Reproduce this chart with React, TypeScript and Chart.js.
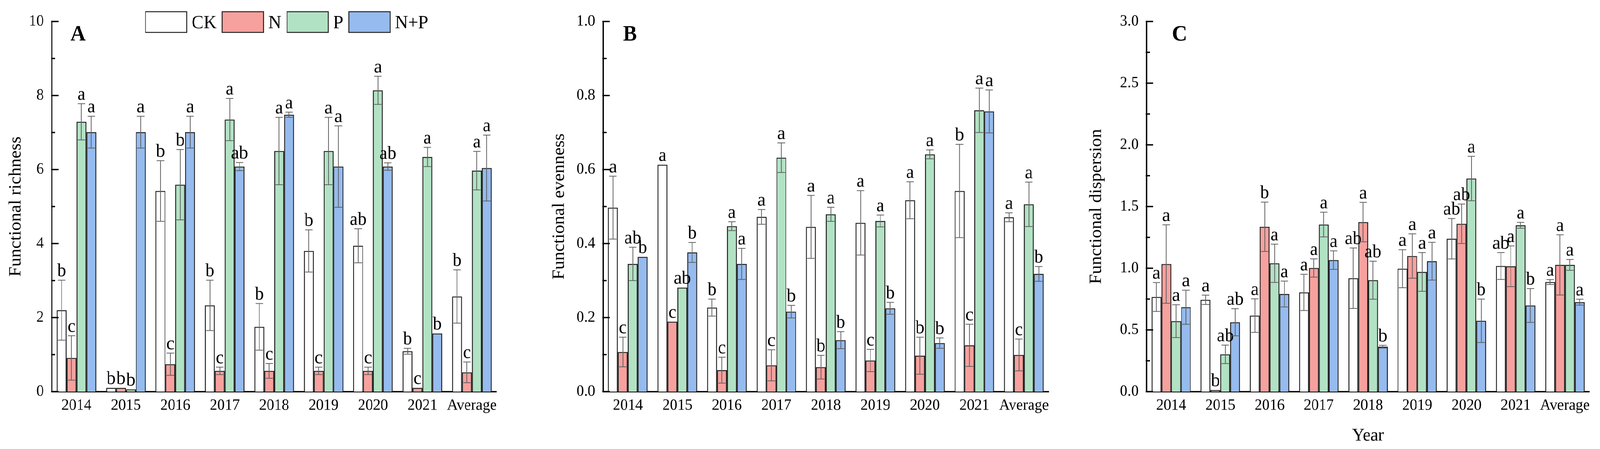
import React, { useEffect, useRef, useState } from 'react';
import { Chart, registerables } from 'chart.js';
Chart.register(...registerables);

const years = ['2014', '2015', '2016', '2017', '2018', '2019', '2020', '2021', 'Average'];
const seriesNames = ['CK', 'N', 'P', 'N+P'];
const seriesColors = ['#FFFFFF', '#F7A19E', '#B2E2C4', '#95BBEF'];

// Panel A: Functional richness
const richCK = [2.2, 0.1, 5.42, 2.33, 1.75, 3.8, 3.94, 1.09, 2.57];
const richN = [0.91, 0.1, 0.74, 0.56, 0.56, 0.56, 0.56, 0.1, 0.52];
const richP = [7.29, 0.06, 5.59, 7.35, 6.5, 6.5, 8.14, 6.34, 5.97];
const richNP = [7.01, 7.01, 7.01, 6.08, 7.48, 6.08, 6.08, 1.57, 6.04];
const richErrCK = [0.81, 0, 0.82, 0.68, 0.63, 0.57, 0.46, 0.08, 0.72];
const richErrN = [0.6, 0, 0.3, 0.1, 0.2, 0.1, 0.1, 0, 0.28];
const richErrP = [0.49, 0, 0.95, 0.57, 0.91, 0.91, 0.38, 0.26, 0.52];
const richErrNP = [0.43, 0.43, 0.43, 0.11, 0.07, 1.1, 0.1, 0, 0.89];
const richLetCK = ['b', 'b', 'b', 'b', 'b', 'b', 'ab', 'b', 'b'];
const richLetN = ['c', 'b', 'c', 'c', 'c', 'c', 'c', 'c', 'c'];
const richLetP = ['a', 'b', 'b', 'a', 'a', 'a', 'a', 'a', 'a'];
const richLetNP = ['a', 'a', 'a', 'ab', 'a', 'a', 'ab', 'b', 'a'];

// Panel B: Functional evenness
const evenCK = [0.497, 0.613, 0.227, 0.472, 0.445, 0.456, 0.517, 0.542, 0.471];
const evenN = [0.107, 0.189, 0.058, 0.071, 0.066, 0.084, 0.097, 0.125, 0.099];
const evenP = [0.345, 0.281, 0.447, 0.632, 0.479, 0.461, 0.641, 0.76, 0.506];
const evenNP = [0.364, 0.376, 0.345, 0.216, 0.139, 0.225, 0.131, 0.757, 0.318];
const evenErrCK = [0.085, 0, 0.023, 0.02, 0.085, 0.087, 0.05, 0.126, 0.012];
const evenErrN = [0.04, 0, 0.035, 0.042, 0.032, 0.03, 0.05, 0.057, 0.043];
const evenErrP = [0.045, 0, 0.012, 0.04, 0.019, 0.016, 0.012, 0.06, 0.06];
const evenErrNP = [0, 0.027, 0.042, 0.017, 0.023, 0.016, 0.014, 0.058, 0.02];
const evenLetCK = ['a', 'a', 'b', 'a', 'a', 'a', 'a', 'b', 'a'];
const evenLetN = ['c', 'c', 'c', 'c', 'b', 'c', 'b', 'c', 'c'];
const evenLetP = ['ab', 'ab', 'a', 'a', 'a', 'a', 'a', 'a', 'a'];
const evenLetNP = ['b', 'b', 'a', 'b', 'b', 'b', 'b', 'a', 'b'];

// Panel C: Functional dispersion
const dispCK = [0.767, 0.744, 0.616, 0.804, 0.919, 0.996, 1.239, 1.018, 0.888];
const dispN = [1.034, 0.013, 1.336, 1.002, 1.374, 1.099, 1.36, 1.016, 1.027];
const dispP = [0.571, 0.302, 1.04, 1.354, 0.903, 0.97, 1.727, 1.348, 1.027];
const dispNP = [0.684, 0.562, 0.791, 1.066, 0.364, 1.057, 0.574, 0.698, 0.725];
const dispErrCK = [0.117, 0.038, 0.136, 0.147, 0.245, 0.154, 0.164, 0.109, 0.02];
const dispErrN = [0.318, 0, 0.2, 0.074, 0.16, 0.18, 0.16, 0.165, 0.244];
const dispErrP = [0.133, 0.075, 0.155, 0.1, 0.154, 0.157, 0.18, 0.024, 0.044];
const dispErrNP = [0.138, 0.11, 0.105, 0.075, 0.011, 0.153, 0.176, 0.137, 0.024];
const dispLetCK = ['a', 'a', 'a', 'a', 'ab', 'a', 'ab', 'ab', 'a'];
const dispLetN = ['a', 'b', 'b', 'a', 'a', 'a', 'ab', 'a', 'a'];
const dispLetP = ['a', 'ab', 'a', 'a', 'ab', 'a', 'a', 'a', 'a'];
const dispLetNP = ['a', 'ab', 'a', 'a', 'b', 'a', 'b', 'b', 'a'];

const FONT = '"Liberation Serif", "Times New Roman", Times, serif';

type Panel = {
  key: string;
  letter: string;
  yTitle: string;
  xTitle?: string;
  max: number;
  step: number;
  decimals: number;
  values: number[][];
  errors: number[][];
  letters: string[][];
  canvasLeft: number;
  axisWidth: number;
  padRight: number;
  titlePad: number;
  letterOffset: number;
  legend: boolean;
};

const panels: Panel[] = [
  {
    key: 'A', letter: 'A', yTitle: 'Functional richness', max: 10, step: 2, decimals: 0,
    values: [richCK, richN, richP, richNP],
    errors: [richErrCK, richErrN, richErrP, richErrNP],
    letters: [richLetCK, richLetN, richLetP, richLetNP],
    canvasLeft: 0, axisWidth: 138, padRight: 98, titlePad: 15, letterOffset: 50, legend: true,
  },
  {
    key: 'B', letter: 'B', yTitle: 'Functional evenness', max: 1.0, step: 0.2, decimals: 1,
    values: [evenCK, evenN, evenP, evenNP],
    errors: [evenErrCK, evenErrN, evenErrP, evenErrNP],
    letters: [evenLetCK, evenLetN, evenLetP, evenLetNP],
    canvasLeft: 1422, axisWidth: 186, padRight: 48, titlePad: 42, letterOffset: 53, legend: false,
  },
  {
    key: 'C', letter: 'C', yTitle: 'Functional dispersion', xTitle: 'Year', max: 3.0, step: 0.5, decimals: 1,
    values: [dispCK, dispN, dispP, dispNP],
    errors: [dispErrCK, dispErrN, dispErrP, dispErrNP],
    letters: [dispLetCK, dispLetN, dispLetP, dispLetNP],
    canvasLeft: 2844, axisWidth: 213, padRight: 28, titlePad: 52, letterOffset: 68, legend: false,
  },
];

const PAGE_W = 4266;
const PAGE_H = 1150;
const CANVAS_W = 1422;
const CANVAS_H = 1150;
const PLOT_TOP = 55;
const XAXIS_H = 147;

const extrasPlugin = {
  id: 'panelExtras',
  afterDatasetsDraw(chart: any, _args: any, opts: any) {
    const ctx = chart.ctx;
    const yScale = chart.scales.y;
    ctx.save();
    chart.data.datasets.forEach((ds: any, di: number) => {
      const meta = chart.getDatasetMeta(di);
      const errs = opts.errors[di];
      const lets = opts.letters[di];
      meta.data.forEach((bar: any, i: number) => {
        const v = ds.data[i];
        const e = errs[i];
        const x = bar.x;
        const w = bar.width;
        let top = yScale.getPixelForValue(v);
        if (e > 0) {
          const yt = yScale.getPixelForValue(v + e);
          const yb = yScale.getPixelForValue(Math.max(v - e, 0));
          const c = w * 0.38;
          ctx.strokeStyle = '#606060';
          ctx.lineWidth = 2;
          ctx.beginPath();
          ctx.moveTo(x, yt);
          ctx.lineTo(x, yb);
          ctx.moveTo(x - c, yt);
          ctx.lineTo(x + c, yt);
          ctx.moveTo(x - c, yb);
          ctx.lineTo(x + c, yb);
          ctx.stroke();
          top = Math.min(top, yt);
        }
        ctx.fillStyle = '#000';
        ctx.font = `48px ${FONT}`;
        ctx.textAlign = 'center';
        ctx.textBaseline = 'alphabetic';
        ctx.fillText(lets[i], x, top - 10);
      });
    });
    ctx.restore();
  },
  afterDraw(chart: any, _args: any, opts: any) {
    const ctx = chart.ctx;
    const yScale = chart.scales.y;
    const left = chart.chartArea.left;
    ctx.save();
    ctx.strokeStyle = '#000';
    ctx.lineWidth = 3.5;
    const ticks = yScale.ticks;
    ctx.beginPath();
    for (let i = 0; i < ticks.length; i++) {
      const py = yScale.getPixelForValue(ticks[i].value);
      ctx.moveTo(left - 2, py);
      ctx.lineTo(left + 18, py);
      if (i < ticks.length - 1) {
        const pm = yScale.getPixelForValue((ticks[i].value + ticks[i + 1].value) / 2);
        ctx.moveTo(left - 2, pm);
        ctx.lineTo(left + 9, pm);
      }
    }
    ctx.stroke();
    ctx.fillStyle = '#000';
    ctx.font = `bold 56px ${FONT}`;
    ctx.textAlign = 'left';
    ctx.textBaseline = 'alphabetic';
    ctx.fillText(opts.panelLetter, left + opts.letterOffset, 104);
    if (opts.legend) {
      let x = 388;
      const y = 30;
      const bw = 110;
      const bh = 53;
      ctx.font = `48px ${FONT}`;
      chart.data.datasets.forEach((ds: any) => {
        ctx.fillStyle = ds.backgroundColor;
        ctx.fillRect(x, y, bw, bh);
        ctx.strokeStyle = '#222';
        ctx.lineWidth = 2.5;
        ctx.strokeRect(x, y, bw, bh);
        x += bw + 13;
        ctx.fillStyle = '#000';
        ctx.textBaseline = 'alphabetic';
        ctx.fillText(ds.label, x, y + bh / 2 + 16);
        x += ctx.measureText(ds.label).width + 15;
      });
    }
    ctx.restore();
  },
};

function PanelChart({ panel }: { panel: Panel }) {
  const ref = useRef<HTMLCanvasElement | null>(null);
  useEffect(() => {
    if (!ref.current) return;
    const chart = new Chart(ref.current, {
      type: 'bar',
      data: {
        labels: years,
        datasets: panel.values.map((vals, i) => ({
          label: seriesNames[i],
          data: vals,
          backgroundColor: seriesColors[i],
          borderColor: '#222',
          borderWidth: 2.5,
          categoryPercentage: 0.8,
          barPercentage: 1.0,
        })),
      },
      plugins: [extrasPlugin as any],
      options: {
        responsive: false,
        animation: false,
        devicePixelRatio: 2,
        layout: { padding: { left: 0, right: panel.padRight, top: PLOT_TOP, bottom: 0 } },
        plugins: {
          legend: { display: false },
          tooltip: { enabled: false },
          panelExtras: {
            errors: panel.errors,
            letters: panel.letters,
            panelLetter: panel.letter,
            letterOffset: panel.letterOffset,
            legend: panel.legend,
          },
        } as any,
        scales: {
          x: {
            type: 'category',
            grid: { display: false, drawTicks: false },
            border: { display: true, width: 3.5, color: '#000' },
            ticks: { color: '#000', font: { size: 40, family: FONT }, padding: 12, maxRotation: 0, autoSkip: false },
            title: panel.xTitle
              ? { display: true, text: panel.xTitle, color: '#000', font: { size: 46, family: FONT }, padding: { top: 0, bottom: 6 } }
              : { display: false },
            afterFit: (s: any) => { s.height = XAXIS_H; },
          },
          y: {
            type: 'linear',
            min: 0,
            max: panel.max,
            grid: { display: false, drawTicks: false },
            border: { display: true, width: 3.5, color: '#000' },
            ticks: {
              stepSize: panel.step,
              color: '#000',
              font: { size: 40, family: FONT },
              padding: 21,
              callback: (v: any) => Number(v).toFixed(panel.decimals),
            },
            title: { display: true, text: panel.yTitle, color: '#000', font: { size: 46, family: FONT }, padding: { top: panel.titlePad, bottom: 0 } },
            afterFit: (s: any) => { s.width = panel.axisWidth; },
          },
        },
      } as any,
    });
    return () => chart.destroy();
  }, [panel]);
  return (
    <canvas
      ref={ref}
      width={CANVAS_W}
      height={CANVAS_H}
      style={{ position: 'absolute', left: panel.canvasLeft, top: 0, width: CANVAS_W, height: CANVAS_H }}
    />
  );
}

function getScale() {
  const w = document.documentElement.clientWidth || window.innerWidth || PAGE_W;
  const h = window.innerHeight || PAGE_H;
  return { sx: w / PAGE_W, sy: h / PAGE_H };
}

export default function App() {
  const [scale, setScale] = useState(() => getScale());
  useEffect(() => {
    document.body.style.margin = '0';
    document.body.style.overflow = 'hidden';
    document.documentElement.style.overflow = 'hidden';
    const update = () => setScale(getScale());
    update();
    window.addEventListener('resize', update);
    return () => window.removeEventListener('resize', update);
  }, []);
  return (
    <div
      style={{
        position: 'absolute',
        left: 0,
        top: 0,
        width: PAGE_W,
        height: PAGE_H,
        background: '#fff',
        overflow: 'hidden',
        transform: `scale(${scale.sx}, ${scale.sy})`,
        transformOrigin: '0 0',
      }}
    >
      {panels.map((p) => (
        <PanelChart key={p.key} panel={p} />
      ))}
    </div>
  );
}
